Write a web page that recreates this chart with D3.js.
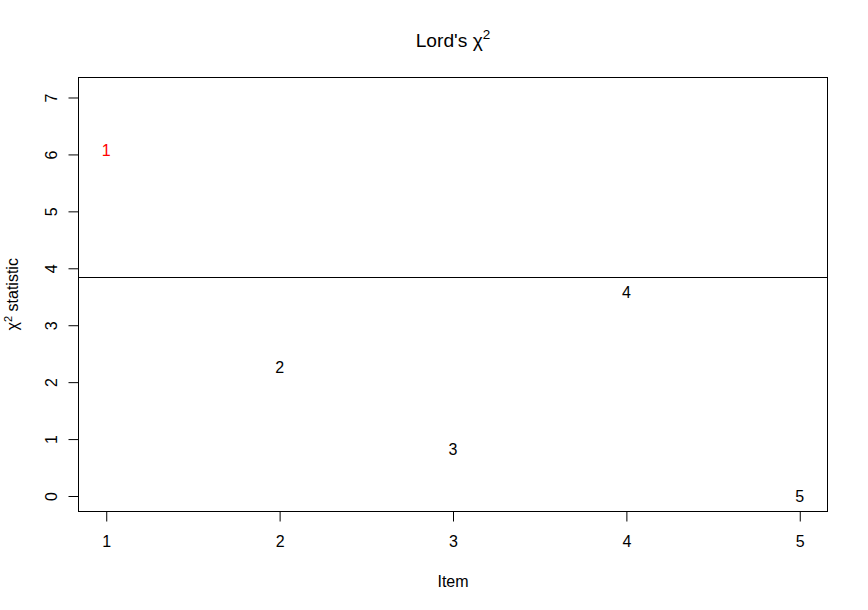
<!DOCTYPE html>
<html>
<head>
<meta charset="utf-8">
<script src="https://cdn.jsdelivr.net/npm/d3@7"></script>
<style>
  html, body { margin: 0; padding: 0; background: #fff; }
  svg { display: block; }
  text { font-family: "Liberation Sans", Arial, Helvetica, sans-serif; }
</style>
</head>
<body>
<div id="chart"></div>
<script>
// ---- data ----
const items = [1, 2, 3, 4, 5];
const itemLabels = ["1", "2", "3", "4", "5"];
const chiValues = [6.07, 2.26, 0.82, 3.58, 0.00];
const threshold = 3.84;
const xTicks = [1, 2, 3, 4, 5];
const yTicks = [0, 1, 2, 3, 4, 5, 6, 7];
const xDomain = [0.84, 5.16];
const yDomain = [-0.272, 7.36];

const W = 868, H = 610;
const plot = { left: 78.5, right: 827.5, top: 77, bottom: 511.5 };

const svg = d3.select("#chart").append("svg")
  .attr("width", W).attr("height", H);

const x = d3.scaleLinear().domain(xDomain).range([plot.left, plot.right]);
const y = d3.scaleLinear().domain(yDomain).range([plot.bottom, plot.top]);

// plot box
svg.append("rect")
  .attr("x", plot.left).attr("y", plot.top + 0.5)
  .attr("width", plot.right - plot.left).attr("height", plot.bottom - plot.top - 0.5)
  .attr("fill", "none").attr("stroke", "#000").attr("stroke-width", 1);

// threshold line
svg.append("line")
  .attr("x1", plot.left).attr("x2", plot.right)
  .attr("y1", Math.round(y(threshold)) + 0.5).attr("y2", Math.round(y(threshold)) + 0.5)
  .attr("stroke", "#000").attr("stroke-width", 1);

// x axis
const gx = svg.append("g")
  .attr("transform", `translate(0,${plot.bottom})`)
  .call(d3.axisBottom(x).tickValues(xTicks).tickFormat(d3.format("d")).tickSize(10).tickSizeOuter(0));
gx.select(".domain").remove();
gx.selectAll(".tick line").attr("stroke", "#000");
gx.selectAll(".tick text")
  .attr("y", 35.5).attr("dy", 0)
  .attr("fill", "#000")
  .style("font-size", "16px");
gx.append("line")
  .attr("x1", x(xTicks[0])).attr("x2", x(xTicks[xTicks.length - 1]))
  .attr("y1", 0).attr("y2", 0).attr("stroke", "#000");

// y axis
const gy = svg.append("g")
  .attr("transform", `translate(${plot.left},0)`)
  .call(d3.axisLeft(y).tickValues(yTicks).tickFormat(d3.format("d")).tickSize(10).tickSizeOuter(0));
gy.select(".domain").remove();
gy.selectAll(".tick line").attr("stroke", "#000");
gy.selectAll(".tick text")
  .attr("transform", "rotate(-90)")
  .attr("x", 0).attr("y", -21.5).attr("dy", 0)
  .attr("text-anchor", "middle")
  .attr("fill", "#000")
  .style("font-size", "16px");
gy.append("line")
  .attr("x1", 0).attr("x2", 0)
  .attr("y1", y(yTicks[0])).attr("y2", y(yTicks[yTicks.length - 1])).attr("stroke", "#000");

// point labels
svg.append("g").selectAll("text")
  .data(items)
  .join("text")
  .attr("x", (d, i) => x(d))
  .attr("y", (d, i) => y(chiValues[i]))
  .attr("dy", "0.36em")
  .attr("text-anchor", "middle")
  .attr("fill", (d, i) => chiValues[i] > threshold ? "#FF0000" : "#000")
  .style("font-size", "16px")
  .text((d, i) => itemLabels[i]);

// title
const cx = (plot.left + plot.right) / 2;
const title = svg.append("text")
  .attr("x", cx).attr("y", 47)
  .attr("text-anchor", "middle")
  .style("font-size", "19.2px")
  .attr("fill", "#000");
title.append("tspan").text("Lord's χ");
title.append("tspan").attr("dy", -8).style("font-size", "13.5px").text("2");

// x label
svg.append("text")
  .attr("x", cx).attr("y", 587)
  .attr("text-anchor", "middle")
  .style("font-size", "16px")
  .attr("fill", "#000")
  .text("Item");

// y label
const cy = (plot.top + plot.bottom) / 2;
const ylab = svg.append("text")
  .attr("transform", `translate(18,${cy}) rotate(-90)`)
  .attr("text-anchor", "middle")
  .style("font-size", "16px")
  .attr("fill", "#000");
ylab.append("tspan").text("χ");
ylab.append("tspan").attr("dy", -6).style("font-size", "11px").text("2");
ylab.append("tspan").attr("dy", 6).text(" statistic");
</script>
</body>
</html>
